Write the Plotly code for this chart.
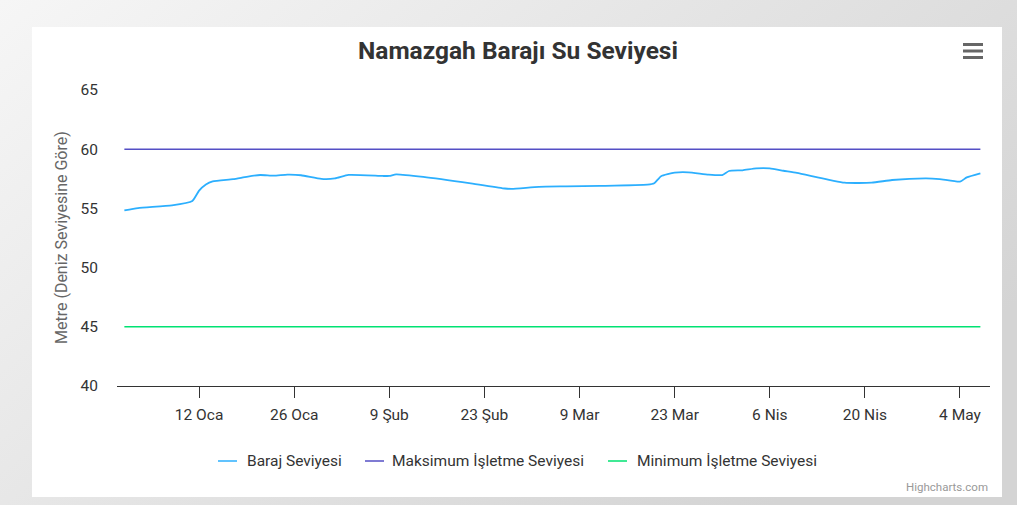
import base64
import pandas as pd
import plotly.graph_objects as go

# ---------------- data ----------------
dates = [
    "2026-01-01", "2026-01-03", "2026-01-08", "2026-01-11", "2026-01-12", "2026-01-13",
    "2026-01-14", "2026-01-17", "2026-01-19", "2026-01-21", "2026-01-23", "2026-01-25",
    "2026-01-27", "2026-01-30", "2026-02-01", "2026-02-03", "2026-02-08", "2026-02-09",
    "2026-02-10", "2026-02-14", "2026-02-21", "2026-02-26", "2026-02-27", "2026-03-03",
    "2026-03-07", "2026-03-12", "2026-03-19", "2026-03-20", "2026-03-21", "2026-03-23",
    "2026-03-25", "2026-03-28", "2026-03-30", "2026-03-31", "2026-04-02", "2026-04-04",
    "2026-04-06", "2026-04-08", "2026-04-10", "2026-04-17", "2026-04-21", "2026-04-24",
    "2026-04-29", "2026-05-01", "2026-05-04", "2026-05-05", "2026-05-07",
]
levels = [
    54.83, 55.03, 55.25, 55.62, 56.50, 57.02,
    57.28, 57.47, 57.67, 57.82, 57.76, 57.85,
    57.80, 57.49, 57.53, 57.83, 57.74, 57.74,
    57.88, 57.67, 57.12, 56.68, 56.65, 56.82,
    56.86, 56.90, 57.00, 57.12, 57.72, 58.02,
    58.05, 57.85, 57.82, 58.16, 58.22, 58.38,
    58.38, 58.18, 58.00, 57.17, 57.17, 57.40,
    57.54, 57.48, 57.26, 57.62, 57.96,
]
max_level = 60
min_level = 45
series_names = ["Baraj Seviyesi", "Maksimum İşletme Seviyesi", "Minimum İşletme Seviyesi"]
series_colors = ["#2caffe", "#544fc5", "#00e272"]
tick_dates = ["2026-01-12", "2026-01-26", "2026-02-09", "2026-02-23", "2026-03-09",
              "2026-03-23", "2026-04-06", "2026-04-20", "2026-05-04"]
tick_labels = ["12 Oca", "26 Oca", "9 Şub", "23 Şub", "9 Mar", "23 Mar", "6 Nis", "20 Nis", "4 May"]
y_ticks = [40, 45, 50, 55, 60, 65]
title_text = "Namazgah Barajı Su Seviyesi"
y_title = "Metre (Deniz Seviyesine Göre)"
credits = "Highcharts.com"

# ---------------- layout geometry ----------------
W, H = 1017, 505
L, R, T, B = 117, 990, 90, 386  # plot area in pixels
FONT = "Roboto, 'Noto Sans', sans-serif"


def xp(px):
    return (px - L) / (R - L)


def yp(py):
    return (B - py) / (B - T)


start = pd.Timestamp(dates[0]) - pd.Timedelta(hours=26)
end = pd.Timestamp(dates[-1]) + pd.Timedelta(hours=34)

fig = go.Figure()
fig.add_trace(go.Scatter(x=dates, y=levels, mode="lines", name=series_names[0],
                         line=dict(color=series_colors[0], width=1.8, shape="spline", smoothing=0.5),
                         showlegend=False))
fig.add_trace(go.Scatter(x=[dates[0], dates[-1]], y=[max_level, max_level], mode="lines",
                         name=series_names[1], line=dict(color=series_colors[1], width=1.5),
                         showlegend=False))
fig.add_trace(go.Scatter(x=[dates[0], dates[-1]], y=[min_level, min_level], mode="lines",
                         name=series_names[2], line=dict(color=series_colors[2], width=1.5),
                         showlegend=False))

# background gradient (image) + white panel
svg = ('<svg xmlns="http://www.w3.org/2000/svg" width="1017" height="505" preserveAspectRatio="none">'
       '<defs><linearGradient id="g" x1="0" y1="0" x2="1" y2="0.6">'
       '<stop offset="0" stop-color="#f6f6f6"/><stop offset="1" stop-color="#d4d4d4"/>'
       '</linearGradient></defs><rect width="1017" height="505" fill="url(#g)"/></svg>')
src = "data:image/svg+xml;base64," + base64.b64encode(svg.encode()).decode()
fig.add_layout_image(dict(source=src, xref="paper", yref="paper", x=xp(0), y=yp(0),
                          sizex=W / (R - L), sizey=H / (B - T), xanchor="left", yanchor="top",
                          sizing="stretch", layer="below"))

shapes = [
    dict(type="rect", xref="paper", yref="paper", x0=xp(32), x1=xp(1002), y0=yp(497), y1=yp(27),
         fillcolor="white", line=dict(width=0), layer="below"),
]
# hamburger menu
for yy in (44.5, 51, 57.5):
    shapes.append(dict(type="line", xref="paper", yref="paper", x0=xp(963), x1=xp(983),
                       y0=yp(yy), y1=yp(yy), line=dict(color="#666666", width=3)))

# manual legend
legend_items = [(218, 245), (365, 390), (608, 635)]
annotations = []
for (lx, tx), name, col in zip(legend_items, series_names, series_colors):
    shapes.append(dict(type="line", xref="paper", yref="paper", x0=xp(lx), x1=xp(lx + 19),
                       y0=yp(461), y1=yp(461), line=dict(color=col, width=1.5)))
    annotations.append(dict(text=name, xref="paper", yref="paper", x=xp(tx), y=yp(461),
                            xanchor="left", yanchor="middle", showarrow=False,
                            font=dict(family=FONT, size=15.5, color="#333333")))

annotations += [
    dict(text="<b>" + title_text + "</b>", xref="paper", yref="paper", x=xp(517.5), y=yp(50),
         xanchor="center", yanchor="middle", showarrow=False,
         font=dict(family=FONT, size=24.5, color="#333333")),
    dict(text=y_title, xref="paper", yref="paper", x=xp(61), y=yp(238), textangle=-90,
         xanchor="center", yanchor="middle", showarrow=False,
         font=dict(family=FONT, size=16, color="#666666")),
    dict(text=credits, xref="paper", yref="paper", x=xp(990), y=yp(487),
         xanchor="right", yanchor="middle", showarrow=False,
         font=dict(family=FONT, size=11.5, color="#999999")),
]

fig.update_layout(
    width=W, height=H,
    margin=dict(l=L, r=W - R, t=T, b=H - B, pad=0),
    paper_bgcolor="#e4e4e4", plot_bgcolor="white",
    showlegend=False,
    shapes=shapes, annotations=annotations,
    font=dict(family=FONT, color="#333333"),
    xaxis=dict(type="date", range=[start, end], tickvals=tick_dates, ticktext=tick_labels,
               showgrid=False, zeroline=False, showline=True, linecolor="#333333", linewidth=1,
               ticks="outside", ticklen=11, tickcolor="#333333", tickwidth=1,
               ticklabelstandoff=3,
               tickfont=dict(family=FONT, size=15.5, color="#333333")),
    yaxis=dict(range=[40, 65], tickvals=y_ticks, showgrid=False, zeroline=False, showline=False,
               ticks="", ticklabelstandoff=18,
               tickfont=dict(family=FONT, size=15.5, color="#333333")),
)

fig.write_html("out.html")
